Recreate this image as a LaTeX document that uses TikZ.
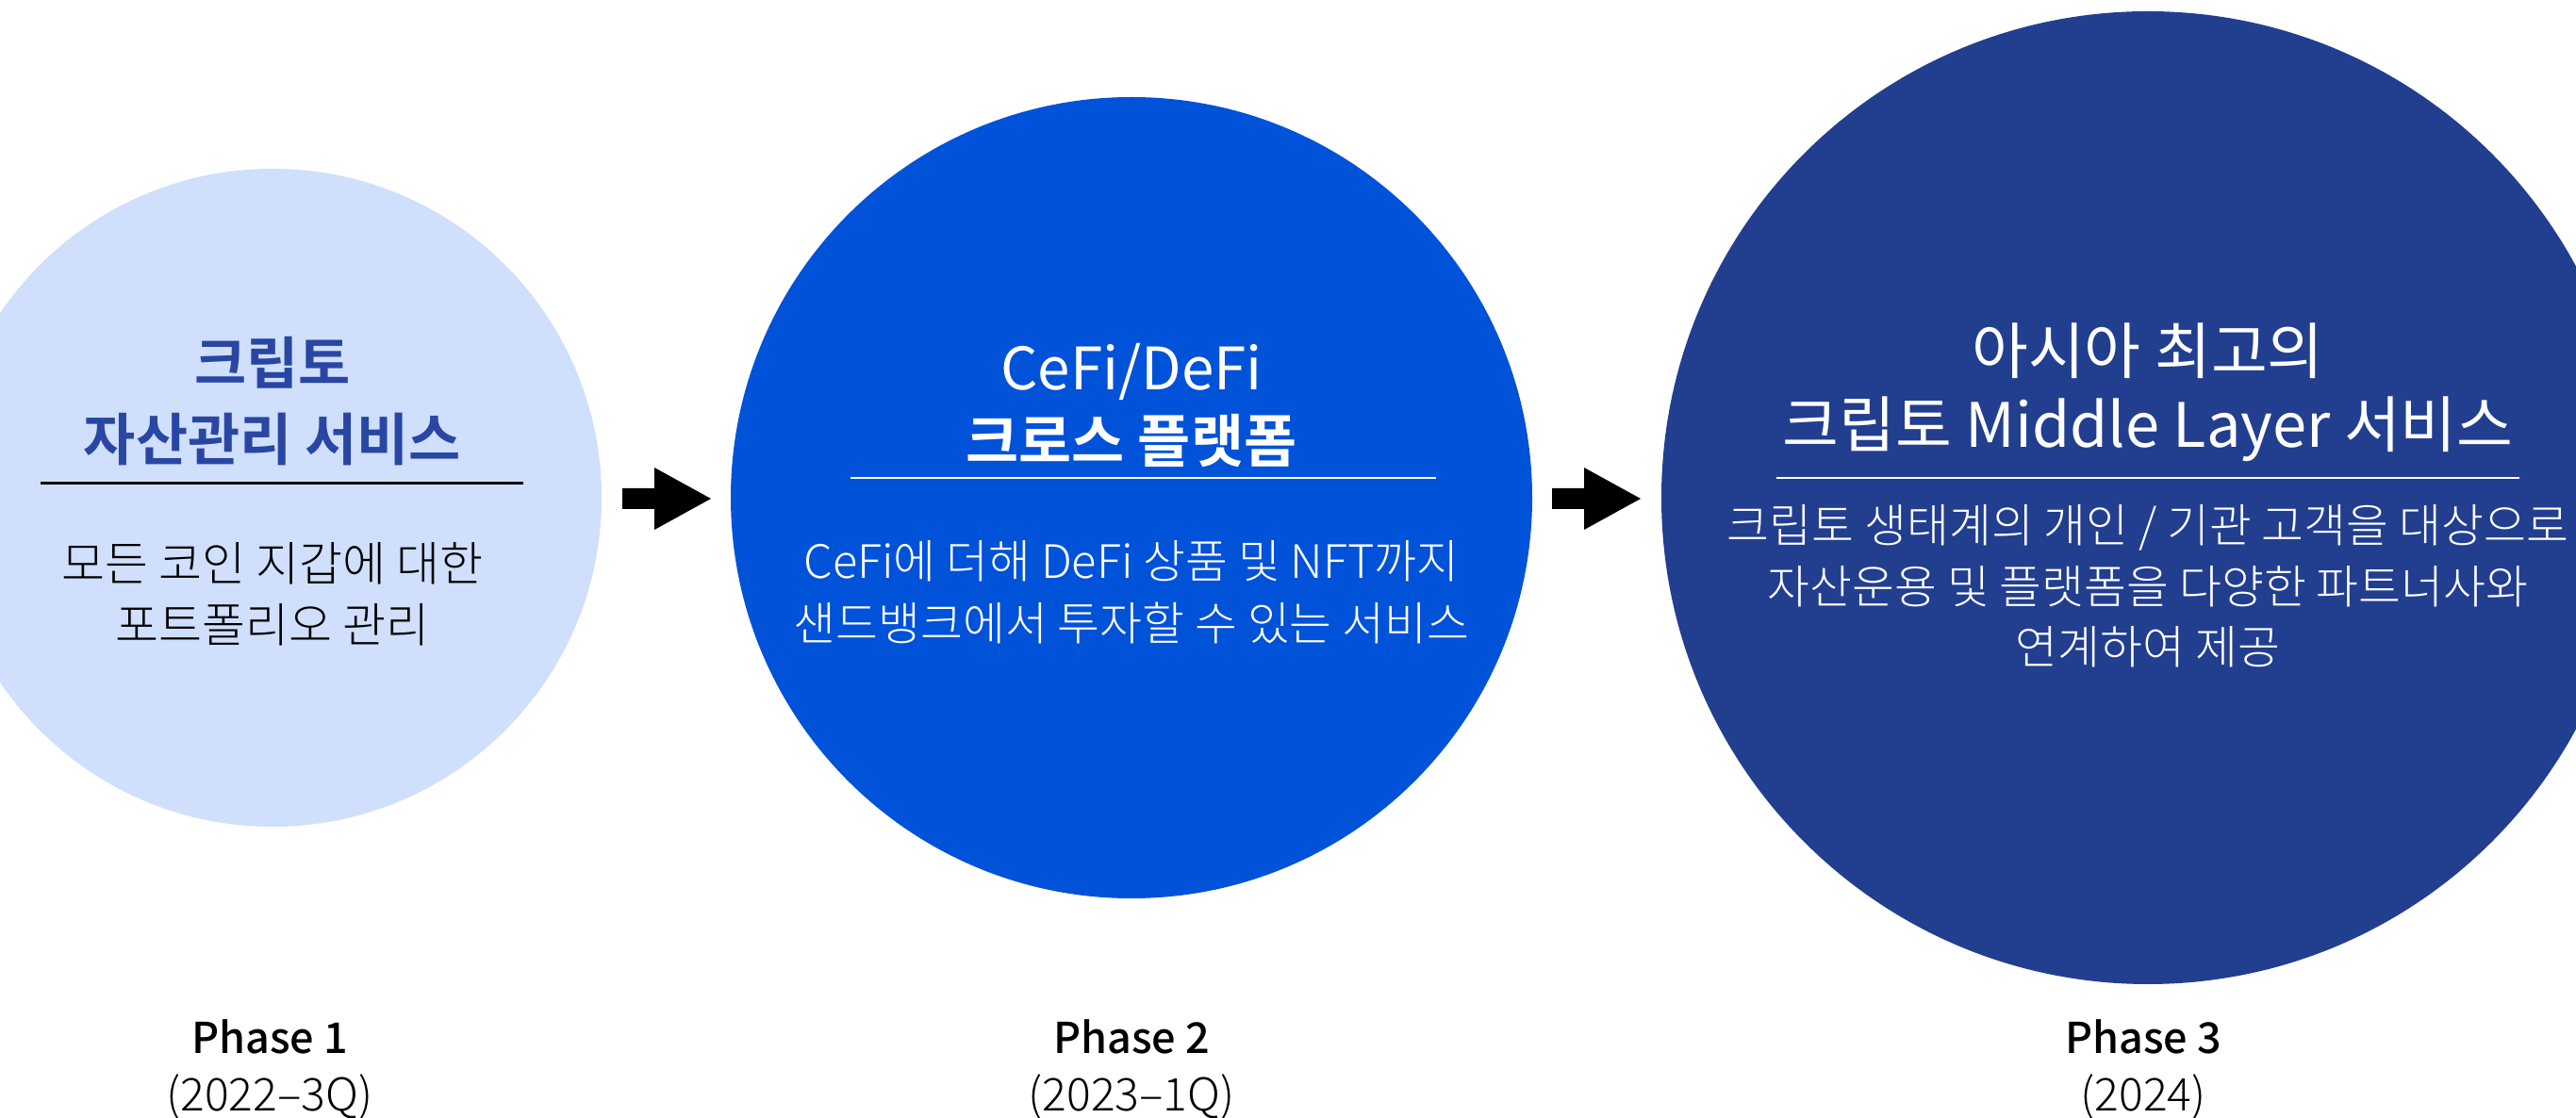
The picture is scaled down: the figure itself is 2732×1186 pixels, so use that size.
\documentclass[tikz,border=0pt]{standalone}
\usepackage{fontspec}
\setmainfont{Noto Sans CJK KR}
\newfontfamily\krlight{Noto Sans CJK KR Light}
\newfontfamily\krreg{Noto Sans CJK KR}
\newfontfamily\krmed{Noto Sans CJK KR Medium}
\newfontfamily\krbold{Noto Sans CJK KR Bold}
\definecolor{cOne}{HTML}{CFDFFC}
\definecolor{cTwo}{HTML}{0052D9}
\definecolor{cThree}{HTML}{223E8F}
\definecolor{tOne}{HTML}{2A46A3}
\tikzset{
  bubble/.style={circle,inner sep=0pt,draw=none},
  ln/.style={inner sep=0pt,anchor=base},
  ttlone/.style={ln,text=tOne,font=\krbold\fontsize{30pt}{30pt}\selectfont},
  bodyone/.style={ln,text=black,font=\krlight\fontsize{25pt}{25pt}\selectfont},
  ttlw/.style={ln,text=white,font=\krreg\fontsize{32.5pt}{32.5pt}\selectfont},
  ttlwc/.style={ln,text=white,font=\krreg\fontsize{31pt}{31pt}\selectfont},
  ttlwb/.style={ln,text=white,font=\krbold\fontsize{30.5pt}{30.5pt}\selectfont},
  bodyw/.style={ln,text=white,font=\krlight\fontsize{24.4pt}{24.4pt}\selectfont},
  phase/.style={ln,text=black,font=\krmed\fontsize{22.5pt}{22.5pt}\selectfont},
  year/.style={ln,text=black,font=\krlight\fontsize{24pt}{24pt}\selectfont},
  blockarrow/.style={fill=black,draw=none}
}
\begin{document}
\begin{tikzpicture}[x=0.5pt,y=-0.5pt]
\useasboundingbox (0,0) rectangle (2732,1186);
\clip (0,0) rectangle (2732,1186);
% circles
\node[bubble,fill=cOne,minimum size=349pt] (c1) at (289,528) {};
\node[bubble,fill=cTwo,minimum size=425pt] (c2) at (1200,528) {};
\node[bubble,fill=cThree,minimum size=516pt] (c3) at (2278,528) {};
% block arrows
\fill[blockarrow] (660,518) -- (694,518) -- (694,496) -- (754,529) -- (694,562) -- (694,540) -- (660,540) -- cycle;
\fill[blockarrow] (1646,518) -- (1680,518) -- (1680,496) -- (1740,529) -- (1680,562) -- (1680,540) -- (1646,540) -- cycle;
% circle 1 text
\node[ttlone] (t1a) at (289,408) {크립토};
\node[ttlone] (t1b) at (289,489) {자산관리 서비스};
\draw[black,line width=1.5pt] (43,513) -- (555,513);
\node[bodyone] (b1a) at (289,617) {모든 코인 지갑에 대한};
\node[bodyone] (b1b) at (289,682) {포트폴리오 관리};
% circle 2 text
\node[ttlwc] (t2a) at (1200,414) {CeFi/DeFi};
\node[ttlwb] (t2b) at (1200,491) {크로스 플랫폼};
\draw[white,line width=1pt] (902,507) -- (1523,507);
\node[bodyw] (b2a) at (1200,614) {CeFi에 더해 DeFi 상품 및 NFT까지};
\node[bodyw] (b2b) at (1200,680) {샌드뱅크에서 투자할 수 있는 서비스};
% circle 3 text
\node[ttlw] (t3a) at (2278,397) {아시아 최고의};
\node[ttlw] (t3b) at (2278,475) {크립토 Middle Layer 서비스};
\draw[white,line width=1pt] (1884,507) -- (2672,507);
\node[bodyw] (b3a) at (2278,576) {크립토 생태계의 개인 / 기관 고객을 대상으로};
\node[bodyw] (b3b) at (2278,641) {자산운용 및 플랫폼을 다양한 파트너사와};
\node[bodyw] (b3c) at (2278,705) {연계하여 제공};
% phases
\node[phase] (p1) at (286,1117) {Phase 1};
\node[year] (y1) at (286,1178) {(2022–3Q)};
\node[phase] (p2) at (1200,1117) {Phase 2};
\node[year] (y2) at (1200,1178) {(2023–1Q)};
\node[phase] (p3) at (2273,1117) {Phase 3};
\node[year] (y3) at (2273,1178) {(2024)};
\end{tikzpicture}
\end{document}
